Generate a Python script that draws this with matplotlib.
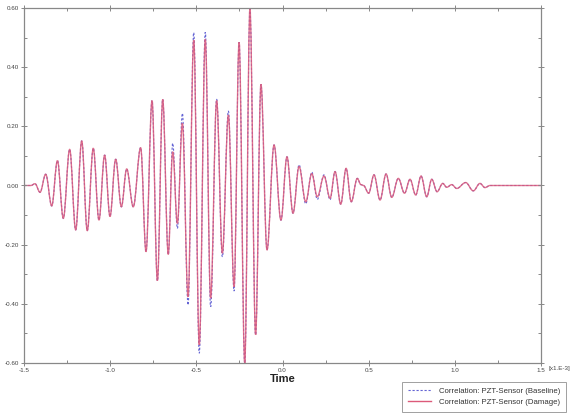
import matplotlib
matplotlib.use("Agg")
import matplotlib.pyplot as plt
from matplotlib.path import Path
from matplotlib.patches import PathPatch
from matplotlib.lines import Line2D
from matplotlib.ticker import MultipleLocator, FormatStrFormatter

# extrema of the two traces (time in 1e-3 units)
times = [-1.500, -1.460, -1.436, -1.407, -1.374, -1.339, -1.306, -1.272, -1.235,
         -1.200, -1.165, -1.133, -1.098, -1.065, -1.032, -1.001, -0.968, -0.935,
         -0.904, -0.866, -0.823, -0.792, -0.757, -0.726, -0.695, -0.663, -0.637,
         -0.610, -0.581, -0.548, -0.515, -0.483, -0.448, -0.417, -0.382, -0.349,
         -0.314, -0.281, -0.252, -0.219, -0.189, -0.156, -0.125, -0.090, -0.049,
         -0.009, 0.026, 0.061, 0.096, 0.135, 0.170, 0.202, 0.241, 0.276, 0.305,
         0.338, 0.369, 0.399, 0.434, 0.455, 0.470, 0.500, 0.531, 0.566, 0.601,
         0.634, 0.672, 0.708, 0.740, 0.773, 0.804, 0.837, 0.866, 0.897, 0.930,
         0.953, 0.982, 1.011, 1.063, 1.107, 1.146, 1.175, 1.204, 1.500]

damage = [0.0, 0.0, 0.006, -0.023, 0.038, -0.069, 0.084, -0.111, 0.122,
          -0.150, 0.151, -0.153, 0.126, -0.117, 0.103, -0.105, 0.089, -0.072,
          0.056, -0.072, 0.128, -0.224, 0.287, -0.322, 0.291, -0.233, 0.114,
          -0.128, 0.210, -0.376, 0.492, -0.539, 0.494, -0.381, 0.287, -0.229,
          0.238, -0.342, 0.484, -0.601, 0.597, -0.505, 0.342, -0.218, 0.137,
          -0.117, 0.097, -0.094, 0.064, -0.055, 0.040, -0.038, 0.032, -0.043, 0.047,
          -0.063, 0.058, -0.055, 0.024, 0.003, 0.000, -0.026, 0.036, -0.049, 0.039,
          -0.040, 0.024, -0.026, 0.021, -0.032, 0.032, -0.038, 0.021, -0.021, 0.007,
          -0.006, 0.003, -0.010, 0.010, -0.018, 0.007, -0.007, 0.0, 0.0]

baseline = [0.0, 0.0, 0.006, -0.023, 0.038, -0.069, 0.084, -0.111, 0.122,
            -0.150, 0.151, -0.153, 0.126, -0.117, 0.103, -0.105, 0.089, -0.072,
            0.056, -0.072, 0.128, -0.224, 0.287, -0.322, 0.291, -0.233, 0.143,
            -0.145, 0.244, -0.404, 0.517, -0.567, 0.518, -0.410, 0.292, -0.241,
            0.252, -0.357, 0.484, -0.601, 0.597, -0.505, 0.342, -0.218, 0.137,
            -0.117, 0.097, -0.094, 0.070, -0.062, 0.045, -0.047, 0.036, -0.048, 0.047,
            -0.063, 0.058, -0.055, 0.024, 0.003, 0.000, -0.026, 0.036, -0.049, 0.039,
            -0.040, 0.024, -0.026, 0.021, -0.032, 0.032, -0.038, 0.021, -0.021, 0.007,
            -0.006, 0.003, -0.010, 0.010, -0.018, 0.007, -0.007, 0.0, 0.0]

labels = ["Correlation: PZT-Sensor (Baseline)", "Correlation: PZT-Sensor (Damage)"]
RED = "#dc5a7a"
BLUE = "#6464d4"
DASH = (0, (2, 1.6))


def wave_path(t, v, k=0.364):
    """smooth path through extrema: cubic segments with flat tangents"""
    verts = [(t[0], v[0])]
    codes = [Path.MOVETO]
    for i in range(1, len(t)):
        dt = t[i] - t[i - 1]
        verts += [(t[i - 1] + k * dt, v[i - 1]), (t[i] - k * dt, v[i]), (t[i], v[i])]
        codes += [Path.CURVE4] * 3
    return Path(verts, codes)


plt.rcParams["font.family"] = ["Liberation Sans", "DejaVu Sans"]
fig = plt.figure(figsize=(5.75, 4.15), dpi=100)
ax = fig.add_axes([24 / 575, 1 - 363 / 415, 517 / 575, 355 / 415])

ax.add_patch(PathPatch(wave_path(times, baseline), fill=False, edgecolor=BLUE,
                       lw=0.8, linestyle=DASH))
ax.add_patch(PathPatch(wave_path(times, damage), fill=False, edgecolor=RED,
                       lw=1.0, alpha=0.85))

ax.set_xlim(-1.5, 1.5)
ax.set_ylim(-0.6, 0.6)
ax.xaxis.set_major_locator(MultipleLocator(0.5))
ax.xaxis.set_minor_locator(MultipleLocator(0.25))
ax.yaxis.set_major_locator(MultipleLocator(0.2))
ax.yaxis.set_minor_locator(MultipleLocator(0.1))
ax.xaxis.set_major_formatter(FormatStrFormatter("%.1f"))
ax.yaxis.set_major_formatter(FormatStrFormatter("%.2f"))
ax.tick_params(which="both", top=True, right=True, colors="#888888",
               labelcolor="#444444", labelsize=4.5, width=0.7)
ax.tick_params(which="major", direction="inout", length=4, pad=1.5)
ax.tick_params(which="minor", direction="in", length=2.5)
for s in ax.spines.values():
    s.set_color("#888888")
    s.set_linewidth(0.9)

ax.text(1.014, -0.008, "[x1.E-3]", transform=ax.transAxes, fontsize=4.5,
        color="#444444", ha="left", va="top")
ax.set_xlabel("Time", fontsize=8, fontweight="bold", color="#222222", labelpad=1)

handles = [Line2D([], [], color=BLUE, lw=0.8, linestyle=DASH),
           Line2D([], [], color=RED, lw=1.0)]
leg = fig.legend(handles, labels, loc="lower right",
                 bbox_to_anchor=(566 / 575, 3 / 415), fontsize=5.6,
                 frameon=True, fancybox=False, edgecolor="#888888",
                 handlelength=3.0, borderpad=0.75, labelspacing=0.5,
                 handletextpad=1.0, borderaxespad=0)
leg.get_frame().set_linewidth(0.7)
for txt in leg.get_texts():
    txt.set_color("#333333")

fig.savefig("out.png", dpi=100)
